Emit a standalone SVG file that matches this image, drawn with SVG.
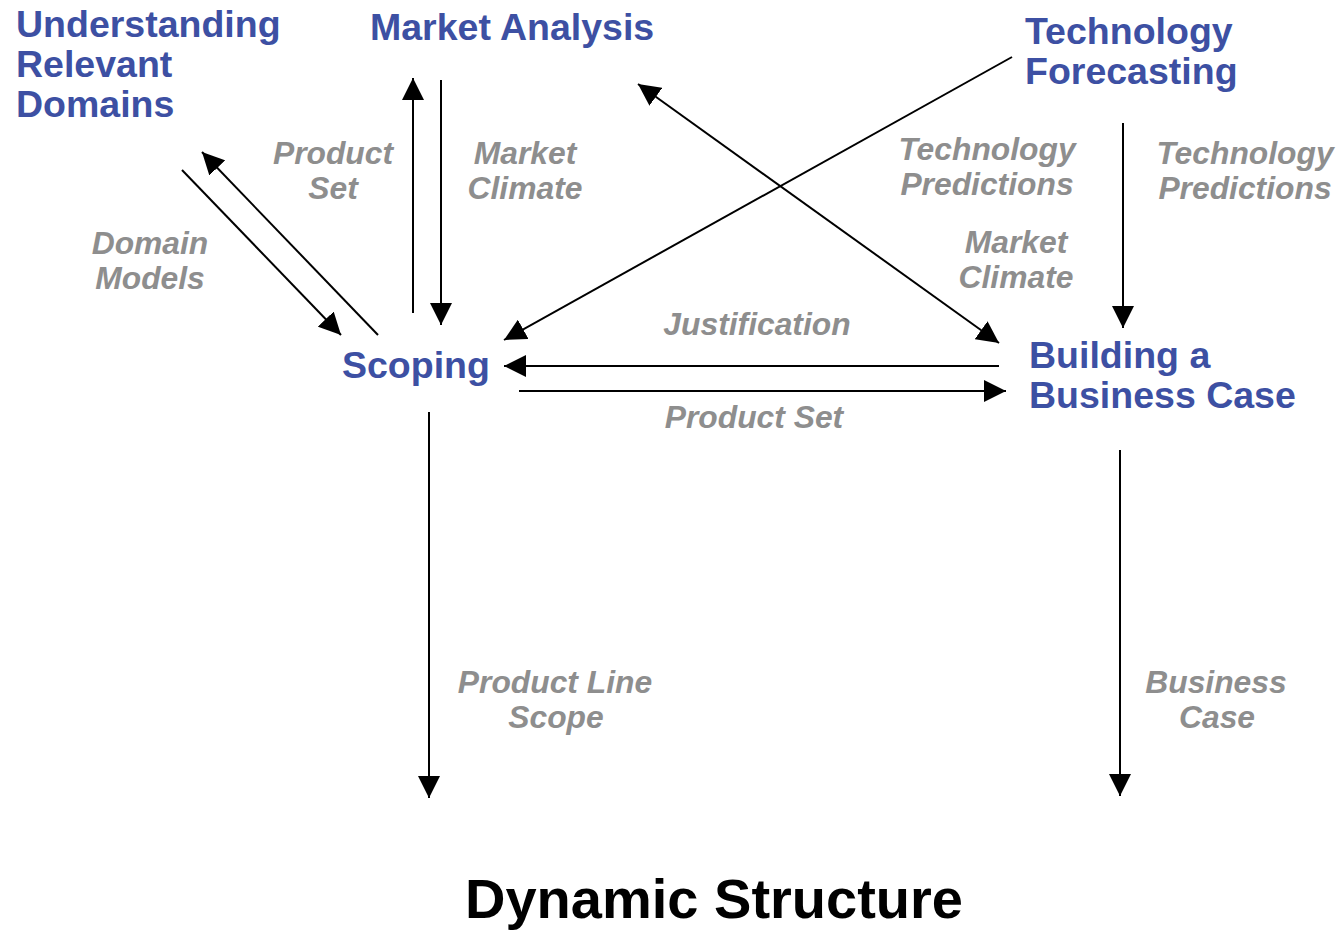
<svg xmlns="http://www.w3.org/2000/svg" width="1340" height="930" viewBox="0 0 1340 930">
<style>
.node{font-family:"Liberation Sans",Arial,sans-serif;font-weight:bold;font-size:37.5px;fill:#3D50A3}
.lbl{font-family:"Liberation Sans",Arial,sans-serif;font-weight:bold;font-style:italic;font-size:31.8px;fill:#8E8E8E;text-anchor:middle}
.title{font-family:"Liberation Sans",Arial,sans-serif;font-weight:bold;font-size:56px;fill:#000;text-anchor:middle}
.c{stroke:#000;stroke-width:2;fill:none;marker-end:url(#ah)}
.cb{stroke:#000;stroke-width:2;fill:none;marker-end:url(#ah);marker-start:url(#ah)}
</style>
<defs>
<marker id="ah" markerUnits="userSpaceOnUse" markerWidth="22" markerHeight="22" viewBox="0 0 22 22" refX="22" refY="11" orient="auto-start-reverse">
<path d="M0,0 L22,11 L0,22 z" fill="#000"/>
</marker>
</defs>
<rect width="1340" height="930" fill="#fff"/>
<g id="connectors">
<line class="c" x1="182" y1="170" x2="341" y2="335"/>
<line class="c" x1="378" y1="335" x2="202" y2="152"/>
<line class="c" x1="413" y1="313" x2="413" y2="78"/>
<line class="c" x1="441" y1="80" x2="441" y2="325"/>
<line class="c" x1="1012" y1="57" x2="504" y2="340"/>
<line class="cb" x1="638" y1="84" x2="999" y2="343"/>
<line class="c" x1="1123" y1="123" x2="1123" y2="328"/>
<line class="c" x1="999" y1="366" x2="504" y2="366"/>
<line class="c" x1="519" y1="391" x2="1006" y2="391"/>
<line class="c" x1="429" y1="412" x2="429" y2="798"/>
<line class="c" x1="1120" y1="450" x2="1120" y2="796"/>
</g>
<g id="labels">
<text class="lbl" x="333" y="164">Product</text>
<text class="lbl" x="333" y="199">Set</text>
<text class="lbl" x="525" y="164">Market</text>
<text class="lbl" x="525" y="199">Climate</text>
<text class="lbl" x="150" y="254">Domain</text>
<text class="lbl" x="150" y="289">Models</text>
<text class="lbl" x="987" y="160">Technology</text>
<text class="lbl" x="987" y="195">Predictions</text>
<text class="lbl" x="1016" y="253">Market</text>
<text class="lbl" x="1016" y="288">Climate</text>
<text class="lbl" x="1245" y="164">Technology</text>
<text class="lbl" x="1245" y="199">Predictions</text>
<text class="lbl" x="757" y="335">Justification</text>
<text class="lbl" x="754" y="428">Product Set</text>
<text class="lbl" x="555" y="693">Product Line</text>
<text class="lbl" x="556" y="728">Scope</text>
<text class="lbl" x="1216" y="693">Business</text>
<text class="lbl" x="1217" y="728">Case</text>
</g>
<g id="node-domains">
<text class="node" x="16" y="37">Understanding</text>
<text class="node" x="16" y="77">Relevant</text>
<text class="node" x="16" y="117">Domains</text>
</g>
<g id="node-market">
<text class="node" x="370" y="40">Market Analysis</text>
</g>
<g id="node-tech">
<text class="node" x="1025" y="44">Technology</text>
<text class="node" x="1025" y="84">Forecasting</text>
</g>
<g id="node-scoping">
<text class="node" x="342" y="378">Scoping</text>
</g>
<g id="node-business">
<text class="node" x="1029" y="368">Building a</text>
<text class="node" x="1029" y="408">Business Case</text>
</g>
<g id="title">
<text class="title" x="714" y="918">Dynamic Structure</text>
</g>
</svg>
